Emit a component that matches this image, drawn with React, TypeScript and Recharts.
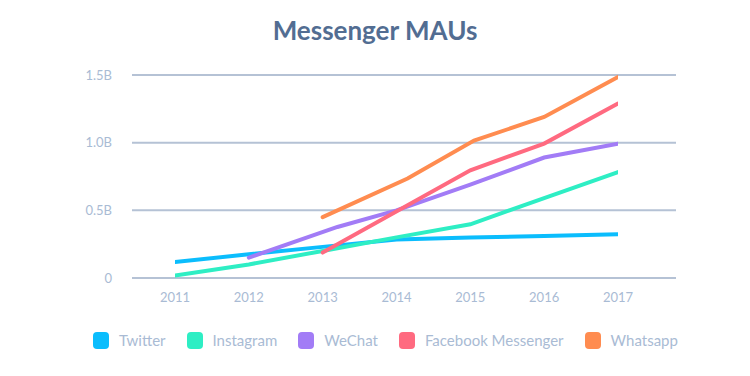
import { LineChart, Line, XAxis, YAxis, CartesianGrid } from "recharts";

const YEARS = [2011, 2012, 2013, 2014, 2015, 2016, 2017];
const Y_TICKS = [0, 0.5, 1, 1.5];
const Y_TICK_LABELS = ["0", "0.5B", "1.0B", "1.5B"];

const TWITTER_X = [2011, 2012, 2013, 2014, 2015, 2016, 2017];
const TWITTER = [0.118, 0.175, 0.23, 0.285, 0.3, 0.31, 0.323];
const INSTAGRAM_X = [2011, 2012, 2013, 2014, 2015, 2016, 2017];
const INSTAGRAM = [0.018, 0.1, 0.2, 0.3, 0.397, 0.59, 0.783];
const WECHAT_X = [2012, 2013.2, 2014, 2015, 2016, 2017];
const WECHAT = [0.15, 0.377, 0.5, 0.69, 0.89, 0.993];
const MESSENGER_X = [2013, 2015, 2016, 2017];
const MESSENGER = [0.188, 0.796, 0.993, 1.289];
const WHATSAPP_X = [2013, 2014.15, 2015.05, 2016, 2017];
const WHATSAPP = [0.45, 0.735, 1.015, 1.19, 1.486];

const zip = (xs: number[], vs: number[]) => xs.map((x, i) => ({ x, v: vs[i] }));

const SERIES = [
  { name: "Twitter", color: "#0bbdfd", data: zip(TWITTER_X, TWITTER) },
  { name: "Instagram", color: "#2eeec4", data: zip(INSTAGRAM_X, INSTAGRAM) },
  { name: "WeChat", color: "#a27cf6", data: zip(WECHAT_X, WECHAT) },
  { name: "Facebook Messenger", color: "#ff6a80", data: zip(MESSENGER_X, MESSENGER) },
  { name: "Whatsapp", color: "#ff8c50", data: zip(WHATSAPP_X, WHATSAPP) },
];

const FONT = "Lato, 'Open Sans', sans-serif";
const LABEL = "#a9bbd4";

export default function App() {
  return (
    <div style={{ position: "absolute", left: 0, top: 0, width: 750, height: 376, background: "#fff", fontFamily: FONT }}>
      <div
        style={{
          position: "absolute",
          top: 14,
          width: 750,
          textAlign: "center",
          fontSize: 26,
          fontWeight: 700,
          color: "#526d92",
        }}
      >
        Messenger MAUs
      </div>
      <LineChart width={750} height={376} margin={{ top: 75, right: 74, left: 0, bottom: 68 }}>
        <CartesianGrid vertical={false} stroke="#b5c2d5" strokeWidth={2} />
        <XAxis
          dataKey="x"
          type="number"
          domain={[2011, 2017]}
          ticks={YEARS}
          padding={{ left: 43, right: 58 }}
          axisLine={false}
          tickLine={false}
          tickSize={0}
          tickMargin={15}
          height={30}
          tick={{ fontSize: 13, fill: LABEL, fontFamily: FONT }}
          allowDataOverflow
        />
        <YAxis
          type="number"
          domain={[0, 1.5]}
          ticks={Y_TICKS}
          tickFormatter={(v: number) => Y_TICK_LABELS[Y_TICKS.indexOf(v)]}
          axisLine={false}
          tickLine={false}
          tickSize={0}
          tickMargin={20}
          width={132}
          tick={{ fontSize: 13, fill: LABEL, fontFamily: FONT }}
        />
        {SERIES.map((s) => (
          <Line
            key={s.name}
            data={s.data}
            dataKey="v"
            name={s.name}
            type="linear"
            stroke={s.color}
            strokeWidth={4}
            strokeLinecap="round"
            dot={false}
            activeDot={false}
            isAnimationActive={false}
          />
        ))}
      </LineChart>
      <div
        style={{
          position: "absolute",
          top: 331,
          left: 93,
          display: "flex",
          alignItems: "center",
          gap: 21,
          fontSize: 15,
          color: LABEL,
        }}
      >
        {SERIES.map((s) => (
          <div key={s.name} style={{ display: "flex", alignItems: "center" }}>
            <span
              style={{
                display: "inline-block",
                width: 16,
                height: 17,
                borderRadius: 4,
                background: s.color,
                marginRight: 10,
              }}
            />
            <span>{s.name}</span>
          </div>
        ))}
      </div>
    </div>
  );
}
